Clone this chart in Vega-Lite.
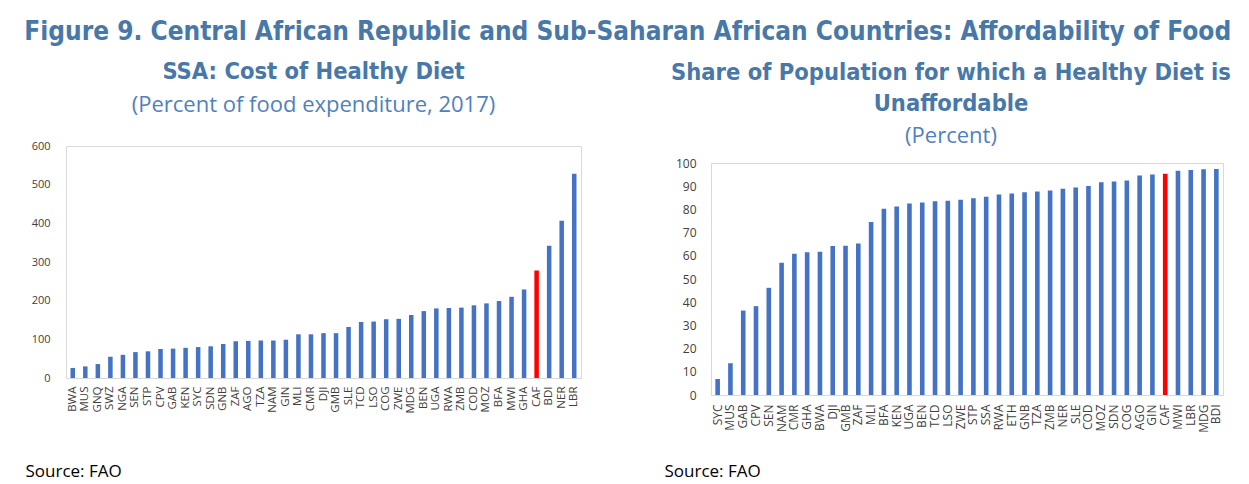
{
  "$schema": "https://vega.github.io/schema/vega-lite/v6.json",
  "padding": {"left": 24, "top": 19, "right": 5, "bottom": 0},
  "background": "white",
  "title": {
    "text": "Figure 9. Central African Republic and Sub-Saharan African Countries: Affordability of Food",
    "font": "DejaVu Sans Condensed, sans-serif",
    "fontSize": 26,
    "fontWeight": "bold",
    "color": "#4878a8",
    "anchor": "middle",
    "offset": 14
  },
  "config": {
    "view": {"stroke": "#d9d9d9", "strokeWidth": 1},
    "axis": {
      "labelFont": "Open Sans",
      "labelColor": "#404040",
      "domainColor": "#d9d9d9",
      "grid": false,
      "ticks": false
    },
    "title": {
      "font": "DejaVu Sans Condensed, sans-serif",
      "fontWeight": "bold",
      "fontSize": 23.5,
      "color": "#4878a8",
      "subtitleFont": "Open Sans",
      "subtitleFontSize": 22,
      "subtitleColor": "#4f81bd"
    }
  },
  "bounds": "full",
  "spacing": 82,
  "datasets": {
    "cost": [
      {"country": "BWA", "value": 26}, {"country": "MUS", "value": 30}, {"country": "GNQ", "value": 36},
      {"country": "SWZ", "value": 55}, {"country": "NGA", "value": 60}, {"country": "SEN", "value": 67},
      {"country": "STP", "value": 69}, {"country": "CPV", "value": 75}, {"country": "GAB", "value": 76},
      {"country": "KEN", "value": 78}, {"country": "SYC", "value": 80}, {"country": "SDN", "value": 82},
      {"country": "GNB", "value": 88}, {"country": "ZAF", "value": 95}, {"country": "AGO", "value": 96},
      {"country": "TZA", "value": 97}, {"country": "NAM", "value": 97}, {"country": "GIN", "value": 99},
      {"country": "MLI", "value": 113}, {"country": "CMR", "value": 113}, {"country": "DJI", "value": 116},
      {"country": "GMB", "value": 116}, {"country": "SLE", "value": 132}, {"country": "TCD", "value": 145},
      {"country": "LSO", "value": 146}, {"country": "COG", "value": 152}, {"country": "ZWE", "value": 153},
      {"country": "MDG", "value": 163}, {"country": "BEN", "value": 173}, {"country": "UGA", "value": 180},
      {"country": "RWA", "value": 181}, {"country": "ZMB", "value": 182}, {"country": "COD", "value": 188},
      {"country": "MOZ", "value": 193}, {"country": "BFA", "value": 199}, {"country": "MWI", "value": 210},
      {"country": "GHA", "value": 229}, {"country": "CAF", "value": 278}, {"country": "BDI", "value": 342},
      {"country": "NER", "value": 407}, {"country": "LBR", "value": 528}
    ],
    "share": [
      {"country": "SYC", "value": 6.9}, {"country": "MUS", "value": 13.7}, {"country": "GAB", "value": 36.4},
      {"country": "CPV", "value": 38.3}, {"country": "SEN", "value": 46.2}, {"country": "NAM", "value": 57.0},
      {"country": "CMR", "value": 60.9}, {"country": "GHA", "value": 61.5}, {"country": "BWA", "value": 61.7},
      {"country": "DJI", "value": 64.2}, {"country": "GMB", "value": 64.3}, {"country": "ZAF", "value": 65.3},
      {"country": "MLI", "value": 74.6}, {"country": "BFA", "value": 80.3}, {"country": "KEN", "value": 81.3},
      {"country": "UGA", "value": 82.5}, {"country": "BEN", "value": 83.0}, {"country": "TCD", "value": 83.5},
      {"country": "LSO", "value": 83.7}, {"country": "ZWE", "value": 84.2}, {"country": "STP", "value": 84.8},
      {"country": "SSA", "value": 85.5}, {"country": "RWA", "value": 86.4}, {"country": "ETH", "value": 86.9},
      {"country": "GNB", "value": 87.4}, {"country": "TZA", "value": 87.7}, {"country": "ZMB", "value": 88.1},
      {"country": "NER", "value": 88.9}, {"country": "SLE", "value": 89.4}, {"country": "COD", "value": 90.1},
      {"country": "MOZ", "value": 91.7}, {"country": "SDN", "value": 92.0}, {"country": "COG", "value": 92.5},
      {"country": "AGO", "value": 94.6}, {"country": "GIN", "value": 95.0}, {"country": "CAF", "value": 95.4},
      {"country": "MWI", "value": 96.7}, {"country": "LBR", "value": 97.0}, {"country": "MDG", "value": 97.3},
      {"country": "BDI", "value": 97.4}
    ]
  },
  "hconcat": [
    {
      "width": 515,
      "height": 232,
      "data": {"name": "cost"},
      "title": {
        "text": "SSA: Cost of Healthy Diet",
        "subtitle": "(Percent of food expenditure, 2017)",
        "subtitlePadding": 12,
        "offset": 24,
        "dx": -10
      },
      "mark": {"type": "bar"},
      "encoding": {
        "x": {
          "field": "country",
          "type": "nominal",
          "sort": null,
          "scale": {"paddingInner": 0.64, "paddingOuter": 0.36},
          "axis": {
            "labelAngle": -90,
            "labelFontSize": 11.5,
            "labelPadding": 8,
            "title": "Source: FAO",
            "titleFont": "Open Sans",
            "titleFontSize": 17,
            "titleFontWeight": "normal",
            "titleColor": "#000000",
            "titleAnchor": "start",
            "titleAlign": "left",
            "titleBaseline": "alphabetic",
            "titleX": -41,
            "titleY": 98
          }
        },
        "y": {
          "field": "value",
          "type": "quantitative",
          "scale": {"domain": [0, 600]},
          "axis": {
            "values": [0, 100, 200, 300, 400, 500, 600],
            "domain": false,
            "labelFontSize": 11,
            "labelPadding": 16,
            "title": null
          }
        },
        "color": {
          "condition": {"test": "datum.country === 'CAF'", "value": "#ff0000"},
          "value": "#4472c4"
        }
      }
    },
    {
      "width": 512,
      "height": 249,
      "data": {"name": "share"},
      "view": {"stroke": null},
      "title": {
        "text": ["Share of Population for which a Healthy Diet is", "Unaffordable"],
        "subtitle": "(Percent)",
        "subtitlePadding": 11,
        "lineHeight": 31,
        "offset": -1,
        "dx": -16
      },
      "layer": [
        {
          "mark": {"type": "bar"},
          "encoding": {
            "x": {
              "field": "country",
              "type": "nominal",
              "sort": null,
              "scale": {"paddingInner": 0.64, "paddingOuter": 0.34},
              "axis": {
                "labelAngle": -90,
                "labelFontSize": 12,
                "labelPadding": 9,
                "title": "Source: FAO",
                "titleFont": "Open Sans",
                "titleFontSize": 17,
                "titleFontWeight": "normal",
                "titleColor": "#000000",
                "titleAnchor": "start",
                "titleAlign": "left",
                "titleBaseline": "alphabetic",
                "titleX": -47,
                "titleY": 81
              }
            },
            "y": {
              "field": "value",
              "type": "quantitative",
              "scale": {"domain": [0, 100], "range": [249, 17], "nice": false},
              "axis": {
                "values": [0, 10, 20, 30, 40, 50, 60, 70, 80, 90, 100],
                "domain": true,
                "labelFontSize": 12,
                "labelPadding": 15,
                "title": null
              }
            },
            "color": {
              "condition": {"test": "datum.country === 'CAF'", "value": "#ff0000"},
              "value": "#4472c4"
            }
          }
        },
        {
          "mark": {"type": "bar", "opacity": 0},
          "encoding": {
            "x": {
              "field": "country",
              "type": "nominal",
              "sort": null,
              "axis": {
                "orient": "top",
                "offset": -17,
                "labels": false,
                "domain": true,
                "title": null
              }
            },
            "y": {
              "field": "value",
              "type": "quantitative",
              "axis": {
                "orient": "right",
                "labels": false,
                "domain": true,
                "title": null
              }
            }
          }
        }
      ],
      "resolve": {"axis": {"x": "independent", "y": "independent"}}
    }
  ]
}
